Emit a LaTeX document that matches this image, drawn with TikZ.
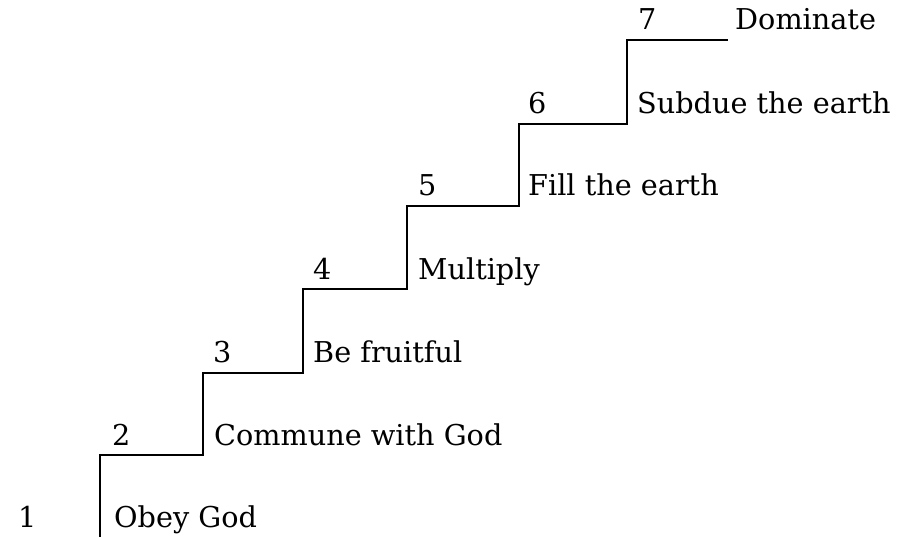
\documentclass[tikz,border=0pt]{standalone}
\usepackage{fontspec}
\setmainfont{DejaVu Serif}
\newcommand{\LINEPT}{2pt}
\newcommand{\TXTSIZE}{\fontsize{28.7}{32}\selectfont}
\definecolor{mystair}{rgb}{0,0,0}

\begin{document}
\begin{tikzpicture}[x=1pt,y=-1pt,
	numlab/.style={anchor=base west,inner sep=0pt,font=\TXTSIZE},
	steplab/.style={anchor=base west,inner sep=0pt,font=\TXTSIZE},
	stair/.style={-,color=mystair,line width=\LINEPT,line cap=rect}]

		\useasboundingbox (0,0) rectangle (899,536);

		%% corners of the stair
		\coordinate (c0) at (100,536);
		\coordinate (c1) at (100,455);
		\coordinate (c2) at (203,455);
		\coordinate (c3) at (203,373);
		\coordinate (c4) at (303,373);
		\coordinate (c5) at (303,289);
		\coordinate (c6) at (407,289);
		\coordinate (c7) at (407,206);
		\coordinate (c8) at (519,206);
		\coordinate (c9) at (519,124);
		\coordinate (c10) at (627,124);
		\coordinate (c11) at (627,40);
		\coordinate (c12) at (727,40);

		\draw[stair] (c0) -- (c1) -- (c2) -- (c3) -- (c4) -- (c5) -- (c6) -- (c7) -- (c8) -- (c9) -- (c10) -- (c11) -- (c12);

		%% step numbers
		\node[numlab] (num1) at (18,527) {1};
		\node[numlab] (num2) at (112,445) {2};
		\node[numlab] (num3) at (213,362) {3};
		\node[numlab] (num4) at (313,279) {4};
		\node[numlab] (num5) at (418,195) {5};
		\node[numlab] (num6) at (528,113) {6};
		\node[numlab] (num7) at (638,29) {7};

		%% step texts
		\node[steplab] (step1) at (114,527) {Obey God};
		\node[steplab] (step2) at (214,445) {Commune with God};
		\node[steplab] (step3) at (313,362) {Be fruitful};
		\node[steplab] (step4) at (418,279) {Multiply};
		\node[steplab] (step5) at (528,195) {Fill the earth};
		\node[steplab] (step6) at (637,113) {Subdue the earth};
		\node[steplab] (step7) at (735,29) {Dominate};

	\end{tikzpicture}
\end{document}
